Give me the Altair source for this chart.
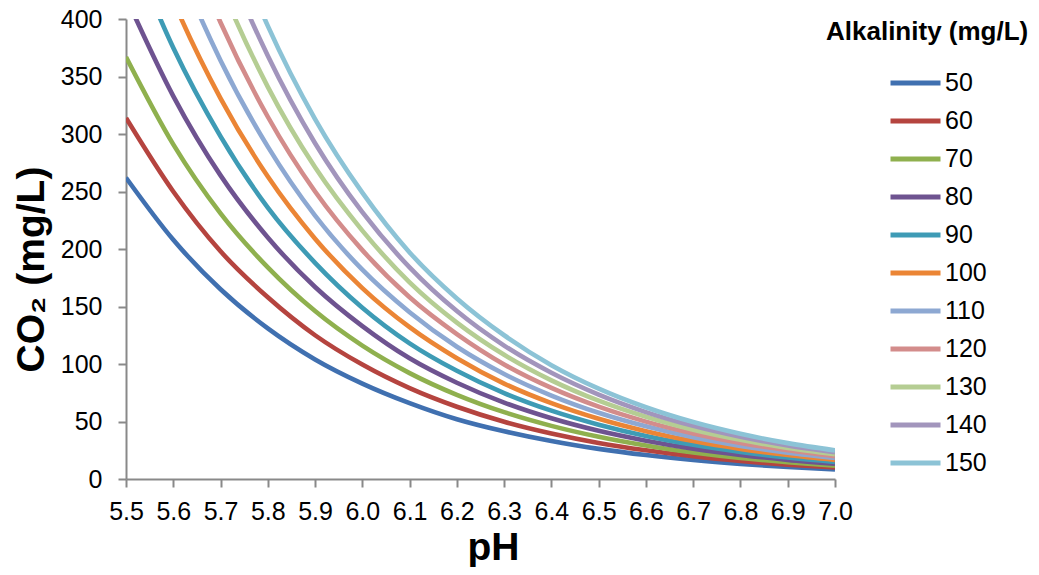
import altair as alt
import pandas as pd

ph = [5.5, 5.6, 5.7, 5.8, 5.9, 6.0, 6.1, 6.2, 6.3, 6.4, 6.5, 6.6, 6.7, 6.8, 6.9, 7.0]

alkalinity = ["50", "60", "70", "80", "90", "100", "110", "120", "130", "140", "150"]

co2_50 = [262, 208, 165, 131, 104, 83, 66, 52, 41.5, 33, 26.2, 20.8, 16.5, 13.1, 10.4, 8.3]
co2_60 = [314, 250, 198, 158, 125, 99.5, 79, 62.8, 49.8, 39.6, 31.4, 25, 19.8, 15.7, 12.5, 10]
co2_70 = [367, 291, 231, 184, 146, 116, 92.1, 73.2, 58.1, 46.2, 36.7, 29.1, 23.1, 18.3, 14.6, 11.6]
co2_80 = [419, 333, 264, 210, 167, 133, 105, 83.7, 66.4, 52.8, 41.9, 33.3, 26.4, 21, 16.6, 13.3]
co2_90 = [472, 375, 298, 236, 188, 149, 118, 94.1, 74.7, 59.4, 47.2, 37.4, 29.7, 23.6, 18.7, 14.9]
co2_100 = [524, 416, 331, 263, 209, 166, 132, 105, 83, 66, 52.4, 41.6, 33, 26.2, 20.8, 16.6]
co2_110 = [576, 458, 364, 289, 229, 182, 145, 115, 91.3, 72.6, 57.6, 45.8, 36.3, 28.8, 22.9, 18.3]
co2_120 = [629, 499, 397, 315, 250, 199, 158, 126, 99.6, 79.2, 62.9, 49.9, 39.6, 31.4, 25, 19.9]
co2_130 = [681, 541, 430, 341, 271, 216, 171, 136, 108, 85.8, 68.1, 54.1, 42.9, 34.1, 27, 21.6]
co2_140 = [734, 583, 463, 368, 292, 232, 184, 146, 116, 92.4, 73.4, 58.2, 46.2, 36.7, 29.1, 23.2]
co2_150 = [786, 624, 496, 394, 313, 249, 197, 157, 125, 99, 78.6, 62.4, 49.5, 39.3, 31.2, 24.9]

series = [co2_50, co2_60, co2_70, co2_80, co2_90, co2_100,
          co2_110, co2_120, co2_130, co2_140, co2_150]

colors = ["#4070B0", "#B5443F", "#8FB04E", "#6E5390", "#3E9BB5", "#EB8535",
          "#8DA8D2", "#D38C8B", "#B5CD93", "#A295BC", "#8CC3D6"]

x_ticks = ph
y_ticks = [0, 50, 100, 150, 200, 250, 300, 350, 400]

rows = []
for i, (alk, vals) in enumerate(zip(alkalinity, series)):
    for p, v in zip(ph, vals):
        rows.append({"pH": p, "CO2": v, "Alkalinity": alk, "order": i})
df = pd.DataFrame(rows)

FONT = "Liberation Sans"
AXIS_GRAY = "#898989"

chart = alt.Chart(df).mark_line(
    clip=True, strokeWidth=4.6, interpolate="monotone", strokeCap="butt"
).encode(
    x=alt.X(
        "pH:Q",
        scale=alt.Scale(domain=[5.5, 7.0], nice=False, zero=False),
        axis=alt.Axis(
            title="pH", values=x_ticks, format=".1f",
            labelFont=FONT, labelFontSize=25, labelColor="black", labelPadding=12,
            tickSize=8, tickColor=AXIS_GRAY, tickWidth=2,
            domainColor=AXIS_GRAY, domainWidth=2,
            titleFont=FONT, titleFontSize=39, titleFontWeight="bold", titleColor="black",
            titleX=367, titleY=80, titleBaseline="alphabetic", titleAlign="center",
            grid=False, labelFlush=False, labelOverlap=False,
        ),
    ),
    y=alt.Y(
        "CO2:Q",
        scale=alt.Scale(domain=[0, 400], nice=False),
        axis=alt.Axis(
            title="CO₂ (mg/L)", values=y_ticks,
            labelFont=FONT, labelFontSize=25, labelColor="black", labelPadding=16,
            tickSize=8, tickColor=AXIS_GRAY, tickWidth=2,
            domainColor=AXIS_GRAY, domainWidth=2,
            titleFont=FONT, titleFontSize=39, titleFontWeight="bold", titleColor="black",
            titleAngle=270, titleX=-83, titleY=250, titleBaseline="alphabetic",
            titleAlign="center", titleLimit=400,
            grid=False, labelOverlap=False,
        ),
    ),
    color=alt.Color(
        "Alkalinity:N",
        sort=alkalinity,
        scale=alt.Scale(domain=alkalinity, range=colors),
        legend=alt.Legend(
            orient="none", legendX=700, legendY=0,
            title="Alkalinity (mg/L)", titleFont=FONT, titleFontSize=26,
            titleFontWeight="bold", titleColor="black", titlePadding=19,
            titleLimit=400,
            labelFont=FONT, labelFontSize=25, labelColor="black", labelOffset=2,
            symbolType="stroke", symbolSize=2500, symbolStrokeWidth=5,
            clipHeight=38, rowPadding=0, symbolOffset=62,
        ),
    ),
    order=alt.Order("order:Q"),
).properties(
    width=709, height=460,
    padding={"left": 118, "top": 11, "right": 196, "bottom": 88},
    autosize=alt.AutoSizeParams(type="none"),
).configure_view(stroke=None)

chart.save("out.html", embed_options={"renderer": "svg", "actions": False})
